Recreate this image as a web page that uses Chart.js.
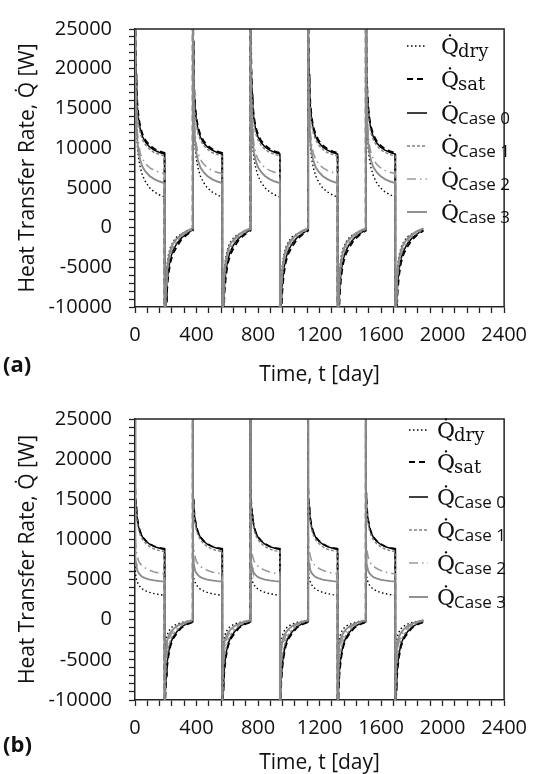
<!DOCTYPE html>
<html>
<head>
<meta charset="utf-8">
<script src="https://cdn.jsdelivr.net/npm/chart.js@4.4.1/dist/chart.umd.min.js"></script>
<style>
  html, body { margin: 0; padding: 0; background: #fff; }
  #wrapA { position: absolute; left: 0; top: 0; width: 537px; height: 390px; }
  #wrapB { position: absolute; left: 0; top: 390px; width: 537px; height: 384px; }
</style>
</head>
<body>
<div id="wrapA"><canvas id="chartA"></canvas></div>
<div id="wrapB"><canvas id="chartB"></canvas></div>
<script>
// cycle timing [day]
const cycleStarts = [0, 375, 750, 1125, 1500];
const heatDays = 192;
const heatT = [0, 1, 2, 4, 7, 11, 16, 24, 35, 50, 70, 95, 125, 160, 192];
const coolT = [0, 1, 3, 6, 10, 16, 25, 38, 55, 80, 110, 145, 183];

// (a) heating / cooling profiles [W]
const dryHeatA = [40000, 37000, 27000, 19500, 15500, 12000, 10000, 8600, 7500, 6500, 5700, 5000, 4500, 4100, 3850];
const satHeatA = [45000, 41000, 31000, 24000, 19800, 17200, 15400, 13850, 12650, 11700, 10950, 10370, 9920, 9600, 9400];
const c0HeatA  = [45000, 40000, 30000, 23500, 19300, 16800, 15000, 13500, 12300, 11400, 10700, 10150, 9750, 9450, 9250];
const c1HeatA  = [45000, 39000, 29000, 22500, 18500, 16000, 14300, 12900, 11800, 11000, 10350, 9850, 9450, 9200, 9000];
const c2HeatA  = [45000, 38000, 28000, 21000, 16500, 13500, 11800, 10400, 9300, 8600, 8000, 7550, 7200, 6950, 6800];
const c3HeatA  = [45000, 36000, 26000, 19000, 15000, 12500, 10800, 9400, 8400, 7600, 7000, 6500, 6100, 5800, 5600];

const dryCoolA = [-40000, -16000, -10500, -8200, -6500, -4800, -3500, -2500, -1800, -1150, -800, -450, -100];
const satCoolA = [-40000, -25000, -18000, -13500, -10500, -8000, -6000, -4400, -3300, -2400, -1500, -900, -400];
const c0CoolA  = [-40000, -24000, -16500, -12000, -9300, -7000, -5300, -3900, -2900, -2000, -1300, -750, -300];
const c1CoolA  = [-40000, -22000, -15000, -11000, -8500, -6300, -4800, -3500, -2600, -1800, -1150, -650, -250];
const c2CoolA  = [-40000, -21000, -14000, -10200, -7700, -5600, -4200, -3000, -2200, -1500, -950, -500, -150];
const c3CoolA  = [-40000, -20000, -13000, -9500, -7200, -5200, -3900, -2800, -2000, -1400, -850, -400, -100];

// (b) heating / cooling profiles [W]
const dryHeatB = [40000, 7500, 6300, 5700, 5200, 4900, 4650, 4350, 4050, 3800, 3600, 3400, 3250, 3120, 3050];
const satHeatB = [40000, 16700, 16000, 15200, 14300, 13300, 12500, 11600, 10900, 10300, 9850, 9450, 9150, 8950, 8850];
const c0HeatB  = [40000, 16500, 15800, 15000, 14100, 13100, 12400, 11500, 10850, 10250, 9800, 9400, 9100, 8900, 8750];
const c1HeatB  = [40000, 16000, 15300, 14500, 13600, 12700, 12000, 11150, 10500, 9950, 9500, 9100, 8800, 8600, 8500];
const c2HeatB  = [40000, 12000, 10500, 9600, 8900, 8300, 7800, 7300, 6950, 6650, 6400, 6150, 5950, 5800, 5700];
const c3HeatB  = [40000, 9500, 8500, 7700, 7000, 6500, 6100, 5800, 5550, 5300, 5150, 5000, 4900, 4800, 4750];

const dryCoolB = [-40000, -10000, -6000, -4000, -2700, -2000, -1500, -1100, -800, -550, -350, -200, -80];
const satCoolB = [-40000, -20000, -13000, -9300, -7500, -6000, -4600, -3300, -2400, -1700, -1000, -600, -300];
const c0CoolB  = [-40000, -19000, -12500, -8800, -7000, -5500, -4200, -3000, -2200, -1500, -900, -500, -250];
const c1CoolB  = [-40000, -17000, -11000, -7800, -6000, -4600, -3500, -2600, -1900, -1300, -750, -400, -150];
const c2CoolB  = [-40000, -14000, -8500, -5800, -4500, -3500, -2700, -2000, -1500, -1000, -600, -300, -100];
const c3CoolB  = [-40000, -12000, -7000, -4500, -3500, -2700, -2100, -1600, -1200, -800, -500, -250, -50];

// axis ticks
const xTickLabels = [0, 400, 800, 1200, 1600, 2000, 2400];
const yTickLabels = [-10000, -5000, 0, 5000, 10000, 15000, 20000, 25000];

const legendSubs = ['dry', 'sat', 'Case 0', 'Case 1', 'Case 2', 'Case 3'];

const styles = [
    { color: '#000', width: 1.4, dash: [1.5, 2.5] },
    { color: '#000', width: 1.8, dash: [6, 4] },
    { color: '#000', width: 1.5, dash: [] },
    { color: '#808080', width: 1.4, dash: [3, 2] },
    { color: '#9a9a9a', width: 1.6, dash: [9, 4, 1.5, 4] },
    { color: '#8c8c8c', width: 1.9, dash: [] }
];

function buildPoints(heat, cool) {
    const pts = [];
    cycleStarts.forEach(function(s) {
        heatT.forEach(function(t, i) { pts.push({ x: s + t, y: heat[i] }); });
        coolT.forEach(function(t, i) { pts.push({ x: s + heatDays + t, y: cool[i] }); });
    });
    return pts;
}

const frameAndLegend = {
    id: 'frameAndLegend',
    afterDraw(chart, args, o) {
        const ctx = chart.ctx;
        const a = chart.chartArea;
        ctx.save();
        ctx.strokeStyle = '#222';
        ctx.lineWidth = 1.5;
        ctx.beginPath();
        ctx.moveTo(a.left, a.top);
        ctx.lineTo(a.right, a.top);
        ctx.lineTo(a.right, a.bottom);
        ctx.stroke();

        // legend
        o.rows.forEach(function(y, i) {
            const st = styles[i];
            ctx.strokeStyle = st.color;
            ctx.lineWidth = st.width;
            ctx.setLineDash(st.dash);
            ctx.beginPath();
            ctx.moveTo(o.lx1, y);
            ctx.lineTo(o.lx2, y);
            ctx.stroke();
            ctx.setLineDash([]);
            ctx.fillStyle = '#111';
            ctx.textAlign = 'left';
            ctx.textBaseline = 'alphabetic';
            ctx.font = '22px "DejaVu Serif"';
            ctx.fillText('Q\u0307', o.qx, y + 8);
            const sub = legendSubs[i];
            ctx.font = sub.startsWith('Case') ? '17px "Open Sans"' : '18px "DejaVu Serif"';
            ctx.fillText(sub, o.qx + 17, y + 11);
        });

        ctx.font = 'bold 22px "Open Sans"';
        ctx.fillStyle = '#111';
        ctx.fillText(o.panel, 3, o.panelY);
        ctx.restore();
    }
};

function makeChart(id, series, h, bottomY, topPad, opt) {
    const datasets = series.map(function(s, i) {
        return {
            label: legendSubs[i],
            data: buildPoints(s[0], s[1]),
            borderColor: styles[i].color,
            borderWidth: styles[i].width,
            borderDash: styles[i].dash,
            pointRadius: 0,
            tension: 0,
            fill: false,
            order: 5 - i
        };
    });
    return new Chart(document.getElementById(id), {
        type: 'line',
        data: { datasets: datasets },
        plugins: [frameAndLegend],
        options: {
            responsive: true,
            maintainAspectRatio: false,
            animation: false,
            layout: { padding: { top: topPad, right: 25, left: 0, bottom: 0 } },
            plugins: {
                legend: { display: false },
                tooltip: { enabled: false },
                frameAndLegend: opt
            },
            scales: {
                x: {
                    type: 'linear',
                    min: 0,
                    max: 2400,
                    afterFit: function(s) { s.height = h - bottomY; },
                    ticks: {
                        stepSize: 80,
                        autoSkip: false,
                        maxRotation: 0,
                        padding: 10,
                        color: '#111',
                        font: { family: 'Open Sans', size: 20 },
                        callback: function(v) { return xTickLabels.includes(v) ? String(v) : ''; }
                    },
                    grid: { drawOnChartArea: false, tickLength: 6, tickColor: '#222', tickWidth: 1.3 },
                    border: { color: '#222', width: 1.5 },
                    title: {
                        display: true,
                        text: 'Time, t [day]',
                        color: '#111',
                        font: { family: 'Open Sans', size: 21, lineHeight: 1 },
                        padding: { top: 0, bottom: opt.titlePad }
                    }
                },
                y: {
                    min: -10000,
                    max: 25000,
                    afterFit: function(s) { s.width = 135; },
                    ticks: {
                        stepSize: 1000,
                        autoSkip: false,
                        padding: 17,
                        color: '#111',
                        font: { family: 'Open Sans', size: 20 },
                        callback: function(v) { return yTickLabels.includes(v) ? String(v) : ''; }
                    },
                    grid: { drawOnChartArea: false, tickLength: 6, tickColor: '#222', tickWidth: 1.3 },
                    border: { color: '#222', width: 1.5 },
                    title: {
                        display: true,
                        text: 'Heat Transfer Rate, Q\u0307 [W]',
                        color: '#111',
                        font: { family: 'Open Sans', size: 21, lineHeight: 1 },
                        padding: { top: 18, bottom: 0 }
                    }
                }
            }
        }
    });
}

makeChart('chartA', [
    [dryHeatA, dryCoolA], [satHeatA, satCoolA], [c0HeatA, c0CoolA],
    [c1HeatA, c1CoolA], [c2HeatA, c2CoolA], [c3HeatA, c3CoolA]
], 390, 307, 19, {
    rows: [46, 79, 113, 146, 179, 212], lx1: 407, lx2: 427, qx: 441,
    panel: '(a)', panelY: 372, titlePad: 4
});

makeChart('chartB', [
    [dryHeatB, dryCoolB], [satHeatB, satCoolB], [c0HeatB, c0CoolB],
    [c1HeatB, c1CoolB], [c2HeatB, c2CoolB], [c3HeatB, c3CoolB]
], 384, 310, 21, {
    rows: [40, 72, 107, 140, 173, 207], lx1: 409, lx2: 428, qx: 437,
    panel: '(b)', panelY: 362, titlePad: 0
});
</script>
</body>
</html>
